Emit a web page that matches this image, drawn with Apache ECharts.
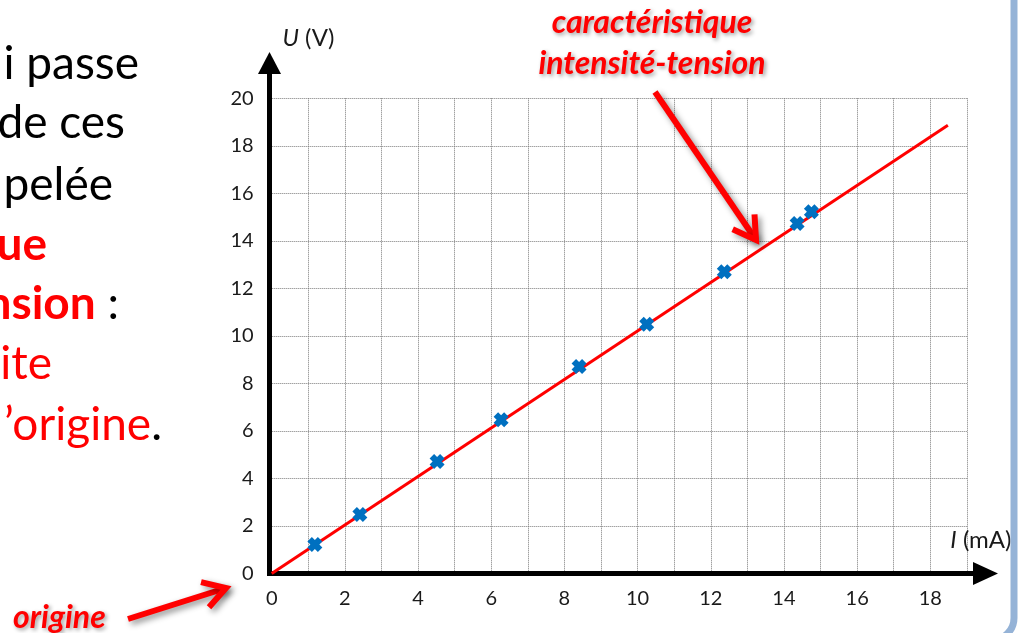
<!DOCTYPE html>
<html>
<head>
<meta charset="utf-8">
<script src="https://cdn.jsdelivr.net/npm/echarts@6/dist/echarts.min.js"></script>
<style>
  html, body { margin: 0; padding: 0; background: #ffffff; }
  #chart { width: 1026px; height: 633px; }
</style>
</head>
<body>
<div id="chart"></div>
<script>
// Measured points: current I (mA) and voltage U (V)
const currentMA = [1.18, 2.41, 4.52, 6.27, 8.40, 10.25, 12.37, 14.36, 14.75];
const voltageV  = [1.22, 2.48, 4.71, 6.47, 8.71, 10.49, 12.70, 14.73, 15.22];

// Fitted straight line through the origin
const fitCurrent = [0, 18.48];
const fitVoltage = [0, 18.87];

// Tick labels shown on each axis
const xTickLabels = [0, 2, 4, 6, 8, 10, 12, 14, 16, 18];
const yTickLabels = [0, 2, 4, 6, 8, 10, 12, 14, 16, 18, 20];

const FONT = 'Lato, "Open Sans", "DejaVu Sans", sans-serif';
const RED = '#ff0000';

// Bold "x" marker
const CROSS = 'path://M0,3 L3,0 L5,2 L7,0 L10,3 L8,5 L10,7 L7,10 L5,8 L3,10 L0,7 L2,5 Z';

const chart = echarts.init(document.getElementById('chart'), null, { renderer: 'canvas' });

const gridLine = { show: true, lineStyle: { color: '#7a7a7a', width: 1, type: [1, 1] } };

// Paragraph fragments on the left side (right ends of the lines)
const leftLines = [
  { text: 'i passe', x: 139, y: 64, color: '#000' },
  { text: 'de ces', x: 125, y: 123, color: '#000' },
  { text: 'pelée', x: 113, y: 185, color: '#000' },
  { text: '{b|ue}', x: 47, y: 245, color: RED },
  { text: '{b|nsion} :', x: 119, y: 304, color: '#000' },
  { text: 'ite', x: 52, y: 364, color: RED },
  { text: '’origine{k|.}', x: 162, y: 425, color: RED }
];

const arrowShadow = {
  shadowBlur: 6,
  shadowColor: 'rgba(0,0,0,0.45)',
  shadowOffsetX: 3,
  shadowOffsetY: 3
};

function arrow(from, to, head) {
  const dx = to[0] - from[0], dy = to[1] - from[1];
  const len = Math.hypot(dx, dy);
  const ux = dx / len, uy = dy / len;
  const px = -uy, py = ux;
  const a = [to[0] - ux * head + px * head * 0.6, to[1] - uy * head + py * head * 0.6];
  const b = [to[0] - ux * head - px * head * 0.6, to[1] - uy * head - py * head * 0.6];
  return [
    { type: 'polyline', z: 50, shape: { points: [from, to] },
      style: Object.assign({ stroke: RED, lineWidth: 6, fill: null }, arrowShadow) },
    { type: 'polyline', z: 50, shape: { points: [a, to, b] },
      style: Object.assign({ stroke: RED, lineWidth: 6, fill: null, lineJoin: 'miter' }, arrowShadow) }
  ];
}

const textShadow = {
  textShadowBlur: 4,
  textShadowColor: 'rgba(0,0,0,0.4)',
  textShadowOffsetX: 2,
  textShadowOffsetY: 2
};

const option = {
  backgroundColor: '#ffffff',
  animation: false,
  grid: [
    { left: 271.7, top: 98.3, width: 695.2, height: 475.2 },
    { left: 269.5, top: 63, right: 40.5, bottom: 59.5 }
  ],
  xAxis: [
    {
      gridIndex: 0, type: 'value', min: 0, max: 19, interval: 1,
      axisLine: { show: false }, axisTick: { show: false },
      splitLine: gridLine,
      axisLabel: {
        formatter: v => (xTickLabels.indexOf(v) >= 0 ? String(v) : ''),
        fontFamily: FONT, fontSize: 20, color: '#1a1a1a', margin: 15
      }
    },
    {
      gridIndex: 1, type: 'value', min: 0, max: 1,
      axisLine: {
        show: true, symbol: ['none', 'triangle'], symbolSize: [23, 25],
        lineStyle: { color: '#000', width: 5, cap: 'square' }
      },
      axisTick: { show: false }, axisLabel: { show: false }, splitLine: { show: false },
      name: '{i|I} (mA)', nameLocation: 'end', nameGap: 26,
      nameTextStyle: {
        fontFamily: FONT, fontSize: 24, color: '#1a1a1a', align: 'right',
        verticalAlign: 'bottom', padding: [0, 0, 21, 0],
        rich: { i: { fontFamily: FONT, fontSize: 24, fontStyle: 'italic', color: '#1a1a1a' } }
      }
    }
  ],
  yAxis: [
    {
      gridIndex: 0, type: 'value', min: 0, max: 20, interval: 2,
      axisLine: { show: false }, axisTick: { show: false },
      splitLine: gridLine,
      axisLabel: {
        formatter: v => (yTickLabels.indexOf(v) >= 0 ? String(v) : ''),
        fontFamily: FONT, fontSize: 20, color: '#1a1a1a', margin: 18
      }
    },
    {
      gridIndex: 1, type: 'value', min: 0, max: 1,
      axisLine: {
        show: true, symbol: ['none', 'triangle'], symbolSize: [23, 22],
        lineStyle: { color: '#000', width: 5, cap: 'square' }
      },
      axisTick: { show: false }, axisLabel: { show: false }, splitLine: { show: false },
      name: '{i|U} (V)', nameLocation: 'end', nameGap: 25,
      nameTextStyle: {
        fontFamily: FONT, fontSize: 24, color: '#1a1a1a', align: 'left',
        verticalAlign: 'middle', padding: [0, 0, 0, 13],
        rich: { i: { fontFamily: FONT, fontSize: 24, fontStyle: 'italic', color: '#1a1a1a' } }
      }
    }
  ],
  series: [
    {
      name: 'caractéristique', type: 'line', xAxisIndex: 0, yAxisIndex: 0,
      data: fitCurrent.map((x, i) => [x, fitVoltage[i]]),
      showSymbol: false, z: 3,
      lineStyle: { color: RED, width: 3 }
    },
    {
      name: 'mesures', type: 'scatter', xAxisIndex: 0, yAxisIndex: 0,
      data: currentMA.map((x, i) => [x, voltageV[i]]),
      symbol: CROSS, symbolSize: 15, z: 4,
      itemStyle: { color: '#0070c0', opacity: 1 }
    }
  ],
  graphic: [
    // rounded frame on the right edge
    { type: 'rect', z: 1, shape: { x: -40, y: -40, width: 1054, height: 680, r: 22 },
      style: { fill: null, stroke: '#95b3d7', lineWidth: 7 } },
    ...leftLines.map(l => ({
      type: 'text', x: l.x, y: l.y, z: 20,
      style: {
        text: l.text, fill: l.color, font: '46px ' + FONT,
        verticalAlign: 'middle', align: 'right',
        rich: {
          b: { fontFamily: FONT, fontSize: 46, fontWeight: 'bold', fill: RED, color: RED },
          k: { fontFamily: FONT, fontSize: 46, fill: '#000', color: '#000' }
        }
      }
    })),
    {
      type: 'text', x: 652, y: 23, z: 30,
      style: Object.assign({ text: 'caractéristique', fill: RED,
        font: 'italic bold 32px ' + FONT, align: 'center', verticalAlign: 'middle' }, textShadow)
    },
    {
      type: 'text', x: 652, y: 64, z: 30,
      style: Object.assign({ text: 'intensité-tension', fill: RED,
        font: 'italic bold 32px ' + FONT, align: 'center', verticalAlign: 'middle' }, textShadow)
    },
    {
      type: 'text', x: 13, y: 618, z: 30,
      style: Object.assign({ text: 'origine', fill: RED,
        font: 'italic bold 32px ' + FONT, align: 'left', verticalAlign: 'middle' }, textShadow)
    },
    ...arrow([655, 92], [756, 240], 22),
    ...arrow([128, 619], [226, 588], 22)
  ]
};

chart.setOption(option);
</script>
</body>
</html>
